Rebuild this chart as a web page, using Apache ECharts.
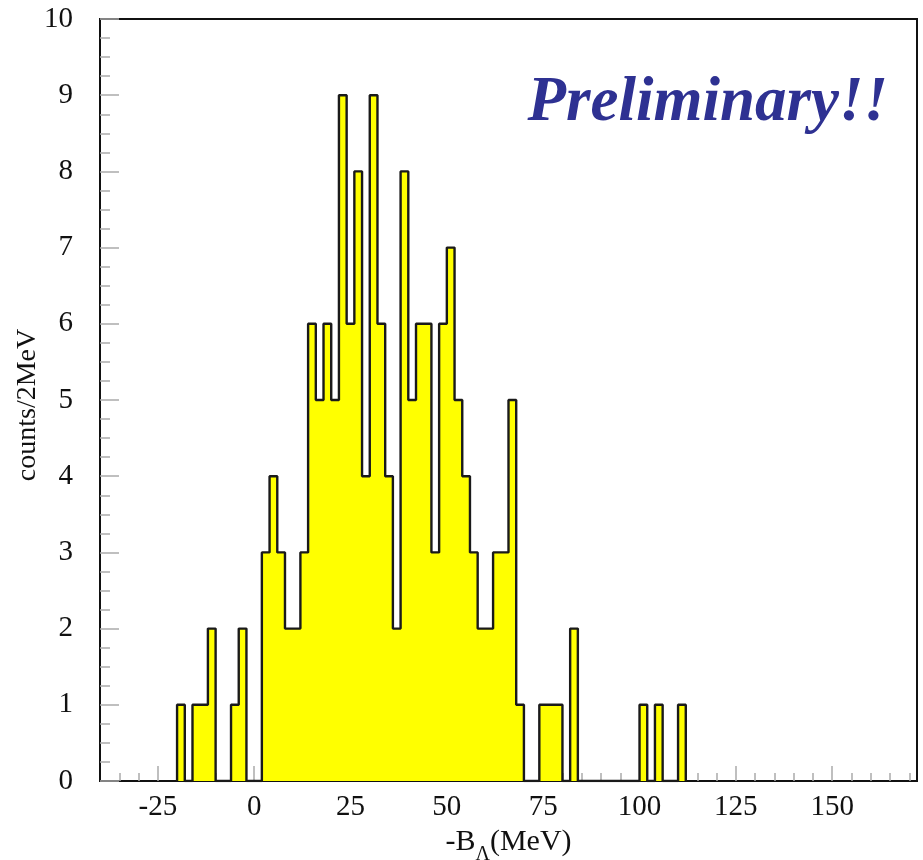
<!DOCTYPE html>
<html>
<head>
<meta charset="utf-8">
<script src="https://cdn.jsdelivr.net/npm/echarts@6/dist/echarts.min.js"></script>
<style>
html,body{margin:0;padding:0;background:#ffffff;}
#chart{width:923px;height:860px;}
</style>
</head>
<body>
<div id="chart"></div>
<script>
// ---- data (2 MeV bins, low edges in MeV) ----
const binLowEdges = [-20,-18,-16,-14,-12,-10,-8,-6,-4,-2,
  0,2,4,6,8,10,12,14,16,18,
  20,22,24,26,28,30,32,34,36,38,
  40,42,44,46,48,50,52,54,56,58,
  60,62,64,66,68,70,72,74,76,78,
  80,82,84,86,88,90,92,94,96,98,
  100,102,104,106,108,110];
const counts = [1,0,1,1,2,0,0,1,2,0,
  0,3,4,3,2,2,3,6,5,6,
  5,9,6,8,4,9,6,4,2,8,
  5,6,6,3,6,7,5,4,3,2,
  2,3,3,5,1,0,0,1,1,1,
  0,2,0,0,0,0,0,0,0,0,
  1,0,1,0,0,1];
const binWidth = 2;
const xMajorTicks = [-25,0,25,50,75,100,125,150];
const xMinorTicks = [-35,-30,-20,-15,-10,-5,5,10,15,20,30,35,40,45,55,60,65,70,80,85,90,95,105,110,115,120,130,135,140,145,155,160,165,170];
const xRange = [-40,172];
const yRange = [0,10];

// build step data from the bins
const stepData = [[binLowEdges[0], 0]];
for (let i = 0; i < counts.length; i++) stepData.push([binLowEdges[i], counts[i]]);
stepData.push([binLowEdges[binLowEdges.length-1] + binWidth, 0]);

const serif = 'Liberation Serif, Times New Roman, serif';
const chart = echarts.init(document.getElementById('chart'), null, {renderer:'canvas'});
chart.setOption({
  animation:false,
  backgroundColor:'#ffffff',
  grid:{left:100, right:6, top:19, bottom:79, show:true, borderColor:'#111', borderWidth:2,
        backgroundColor:'transparent', containLabel:false, outerBoundsMode:'none'},
  xAxis:[{
    type:'value', min:xRange[0], max:xRange[1], position:'bottom',
    axisLine:{show:false, onZero:false},
    splitLine:{show:false},
    axisTick:{show:true, inside:true, length:15, customValues:xMajorTicks, lineStyle:{color:'#aaa', width:1.5}},
    axisLabel:{show:true, customValues:xMajorTicks, margin:12, fontFamily:serif, fontSize:29, color:'#111'},
    name:'{m|-B}{sub|Λ}{m|(MeV)}', nameLocation:'middle', nameGap:46, nameMoveOverlap:false,
    nameTextStyle:{fontFamily:serif, fontSize:30, color:'#111', verticalAlign:'top',
      rich:{
        m:{fontFamily:serif, fontSize:30, lineHeight:20, verticalAlign:'top', color:'#111'},
        sub:{fontFamily:serif, fontSize:20, lineHeight:56, verticalAlign:'middle', color:'#111'}
      }}
  },{
    type:'value', min:xRange[0], max:xRange[1], position:'bottom',
    axisLine:{show:false, onZero:false}, splitLine:{show:false}, axisLabel:{show:false},
    axisTick:{show:true, inside:true, length:8, customValues:xMinorTicks, lineStyle:{color:'#aaa', width:1.5}}
  }],
  yAxis:{
    type:'value', min:yRange[0], max:yRange[1], interval:1, position:'left',
    axisLine:{show:false, onZero:false},
    splitLine:{show:false},
    axisTick:{show:true, inside:true, length:19, lineStyle:{color:'#aaa', width:1.5}},
    minorTick:{show:true, splitNumber:4, length:10, lineStyle:{color:'#aaa', width:1.5}},
    axisLabel:{margin:27, fontFamily:serif, fontSize:29, color:'#111'},
    name:'counts/2MeV', nameLocation:'middle', nameGap:58, nameMoveOverlap:false,
    nameTextStyle:{fontFamily:serif, fontSize:28, color:'#111', padding:[0,10,0,0]}
  },
  series:[{
    type:'line', step:'end', xAxisIndex:0, yAxisIndex:0,
    data:stepData, showSymbol:false, symbol:'none',
    lineStyle:{color:'#1a1a1a', width:2.4},
    areaStyle:{color:'#ffff00', opacity:1},
    z:2
  }],
  graphic:[{
    type:'text', right:35, top:72, z:10,
    style:{text:'Preliminary!!', font:'italic bold 63px ' + serif, fill:'#2e3192'}
  }]
});
</script>
</body>
</html>
